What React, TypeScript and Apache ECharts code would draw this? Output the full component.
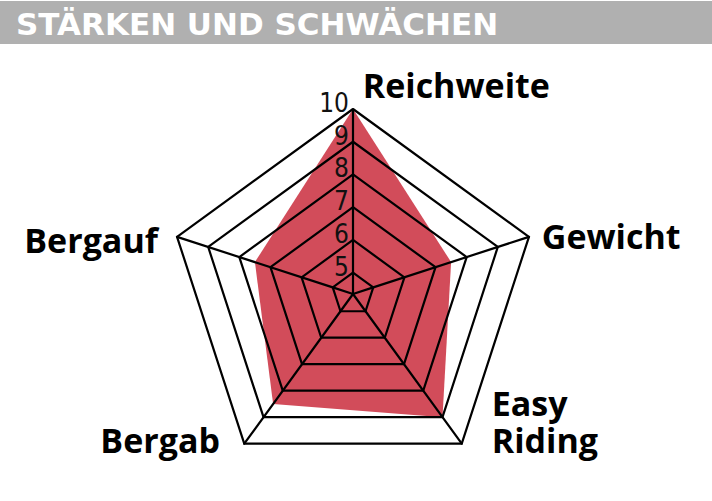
import React, { useEffect, useRef } from 'react';
import * as echarts from 'echarts';

// ---- data ----
const titleText = 'STÄRKEN UND SCHWÄCHEN';
const indicatorNames = ['Reichweite', 'Bergauf', 'Bergab', 'Easy Riding', 'Gewicht'];
const scores = [10, 7.5, 8.5, 9, 7.5];
const scaleMin = 5;
const scaleMax = 10;
const tickLabels = ['5', '6', '7', '8', '9', '10'];

const FONT_BOLD = '"Open Sans", "DejaVu Sans", sans-serif';
const FONT_TITLE = '"DejaVu Sans", "Open Sans", sans-serif';
const FONT_TICK = '"Liberation Sans Narrow", "DejaVu Sans Condensed", Roboto, sans-serif';

export default function App() {
  const ref = useRef<HTMLDivElement>(null);

  useEffect(() => {
    const chart = echarts.init(ref.current!, null, { renderer: 'svg' });
    const cx = 353;
    const cy = 294;
    const R = 185;
    const r0 = 21.3;
    const nameStyle = { fontFamily: FONT_BOLD, fontWeight: 700, fontSize: 34, color: '#000' };
    const lineStyle = { color: '#000', width: 2.2 };

    const nameKey: Record<string, string> = {
      'Reichweite': '{top|Reichweite}',
      'Gewicht': '{gew|Gewicht}',
      'Easy Riding': '{er1|Easy}\n{er2|Riding}',
      'Bergab': '{bab|Bergab}',
      'Bergauf': '{bauf|Bergauf}',
    };

    chart.setOption({
      animation: false,
      backgroundColor: '#ffffff',
      graphic: [
        {
          type: 'rect',
          z: 0,
          silent: true,
          shape: { x: 0, y: 1, width: 712, height: 43 },
          style: { fill: '#b0b0b0' },
        },
      ],
      title: {
        text: titleText,
        left: 16,
        top: 8.5,
        padding: 0,
        z: 6,
        textStyle: { color: '#ffffff', fontFamily: FONT_TITLE, fontWeight: 700, fontSize: 31 },
      },
      radar: [
        {
          center: [cx, cy],
          radius: [r0, R],
          startAngle: 90,
          splitNumber: 5,
          shape: 'polygon',
          z: 3,
          axisNameGap: 3,
          indicator: indicatorNames.map((name, i) =>
            i === 0
              ? { name, min: scaleMin, max: scaleMax, axisLabel: { show: true } }
              : { name, min: scaleMin, max: scaleMax }
          ),
          axisName: {
            ...nameStyle,
            formatter: (name: string) => nameKey[name] ?? name,
            rich: {
              top: { ...nameStyle, padding: [0, 0, 4.2, 206.6] },
              gew: { ...nameStyle, padding: [0, 0, 0, 10] },
              er1: { ...nameStyle, padding: [0, 0, 3.5, 28.2] },
              er2: { ...nameStyle, padding: [0, 0, 49.3, 28.2] },
              bab: { ...nameStyle, padding: [0, 22.5, 12.6, 0] },
              bauf: { ...nameStyle, padding: [7.8, 16.3, 0, 0] },
            },
          },
          axisLine: { show: true, lineStyle },
          splitLine: { show: true, lineStyle },
          splitArea: { show: false },
          axisTick: { show: false },
          axisLabel: {
            show: false,
            margin: 4,
            verticalAlign: 'bottom',
            lineHeight: 12,
            color: '#111',
            fontFamily: FONT_TICK,
            fontSize: 26,
            formatter: (v: number) => tickLabels[Math.round(v) - scaleMin] ?? String(v),
          },
        },
        {
          center: [cx, cy],
          radius: r0,
          startAngle: 90,
          splitNumber: 1,
          shape: 'polygon',
          z: 3,
          indicator: indicatorNames.map((name) => ({ name, min: 0, max: 1 })),
          axisName: { show: false },
          axisLine: { show: true, lineStyle },
          splitLine: { show: false },
          splitArea: { show: false },
          axisTick: { show: false },
          axisLabel: { show: false },
        },
      ],
      series: [
        {
          type: 'radar',
          radarIndex: 0,
          z: 2,
          symbol: 'none',
          lineStyle: { width: 0, opacity: 0 },
          areaStyle: { color: '#d24c5a', opacity: 1 },
          data: [{ name: 'Bewertung', value: scores }],
        },
      ],
    });

    return () => chart.dispose();
  }, []);

  return (
    <div
      ref={ref}
      style={{ position: 'absolute', left: 0, top: 0, width: 712, height: 501 }}
    />
  );
}
